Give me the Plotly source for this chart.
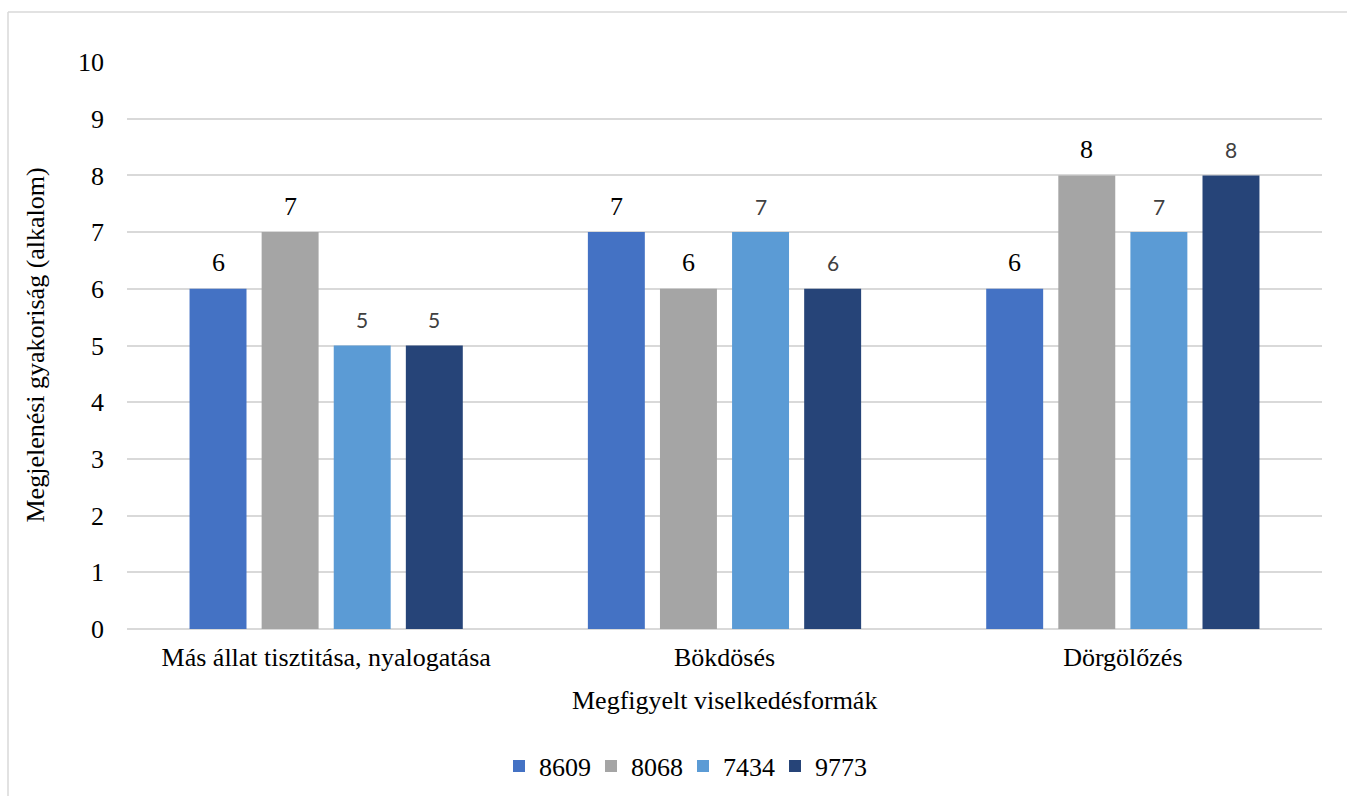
import plotly.graph_objects as go

# Observed behaviours (x categories) and animal IDs (series)
categories = ["Más állat tisztitása, nyalogatása", "Bökdösés", "Dörgölőzés"]
series_names = ["8609", "8068", "7434", "9773"]
values_8609 = [6, 7, 6]
values_8068 = [7, 6, 8]
values_7434 = [5, 7, 7]
values_9773 = [5, 6, 8]
y_ticks = [0, 1, 2, 3, 4, 5, 6, 7, 8, 9, 10]

series_values = [values_8609, values_8068, values_7434, values_9773]
colors = ["#4472C4", "#A5A5A5", "#5B9BD5", "#264478"]
serif = "Liberation Serif"
FS = 26
# first two series carry serif value labels, the others a sans face
label_fonts = [
    dict(family=serif, size=FS, color="#000000"),
    dict(family=serif, size=FS, color="#000000"),
    dict(family="Lato", size=21, color="#404040"),
    dict(family="Lato", size=21, color="#404040"),
]

W, H = 1347, 796
ML, MR, MT, MB = 127, 25, 62, 167
BARGAP = 0.276
BARGROUPGAP = 0.21

fig = go.Figure()
for name, vals, col in zip(series_names, series_values, colors):
    fig.add_trace(go.Bar(
        x=categories, y=vals, name=name,
        marker=dict(color=col, line=dict(width=0)),
        hoverinfo="x+y+name",
    ))

# value labels above each bar, placed on the category index plus the bar's slot offset
n = len(series_names)
slot = (1 - BARGAP) / n
annotations = []
for i, (vals, fnt) in enumerate(zip(series_values, label_fonts)):
    for j, v in enumerate(vals):
        annotations.append(dict(
            x=j + (i - (n - 1) / 2) * slot, y=v, xref="x", yref="y",
            text=str(v), showarrow=False, yanchor="middle", yshift=26,
            font=fnt,
        ))

pw, ph = W - ML - MR, H - MT - MB
annotations.append(dict(
    text="Megjelenési gyakoriság (alkalom)", xref="paper", yref="paper",
    x=(35 - ML) / pw, y=0.5, textangle=-90, showarrow=False,
    xanchor="center", yanchor="middle", font=dict(family=serif, size=FS, color="#000000"),
))
annotations.append(dict(
    text="Megfigyelt viselkedésformák", xref="paper", yref="paper",
    x=0.5, y=(H - MB - 700) / ph, showarrow=False,
    xanchor="center", yanchor="middle", font=dict(family=serif, size=FS, color="#000000"),
))

frame_col = "#D9D9D9"
shapes = [
    # outer chart frame (top and left edges)
    dict(type="line", xref="paper", yref="paper",
         x0=(8 - ML) / pw, x1=(W + 5 - ML) / pw,
         y0=(H - MB - 12) / ph, y1=(H - MB - 12) / ph,
         line=dict(color=frame_col, width=1.5)),
    dict(type="line", xref="paper", yref="paper",
         x0=(8 - ML) / pw, x1=(8 - ML) / pw,
         y0=(H - MB - 12) / ph, y1=(H - MB - H - 5) / ph,
         line=dict(color=frame_col, width=1.5)),
]

fig.update_layout(
    width=W, height=H,
    margin=dict(l=ML, r=MR, t=MT, b=MB, autoexpand=False),
    paper_bgcolor="white", plot_bgcolor="white",
    barmode="group", bargap=BARGAP, bargroupgap=BARGROUPGAP,
    font=dict(family=serif, size=FS, color="#000000"),
    showlegend=True,
    legend=dict(
        orientation="h", x=(683 - ML) / pw, xanchor="center",
        y=(H - MB - 766) / ph, yanchor="middle",
        font=dict(family=serif, size=FS, color="#000000"),
        itemwidth=30, entrywidth=47, traceorder="normal",
    ),
    annotations=annotations,
    shapes=shapes,
)
fig.update_xaxes(
    type="category", showgrid=False, showline=False, zeroline=False,
    ticks="", tickfont=dict(family=serif, size=FS, color="#000000"),
    ticklabelstandoff=10,
)
fig.update_yaxes(
    range=[0, 10], tickvals=y_ticks, showgrid=True, gridcolor="#D9D9D9",
    gridwidth=1.5, zeroline=True, zerolinecolor="#D9D9D9", zerolinewidth=1.5,
    showline=False, ticks="", ticklabelstandoff=22,
    tickfont=dict(family=serif, size=FS, color="#000000"),
)

fig.write_html("out.html")
